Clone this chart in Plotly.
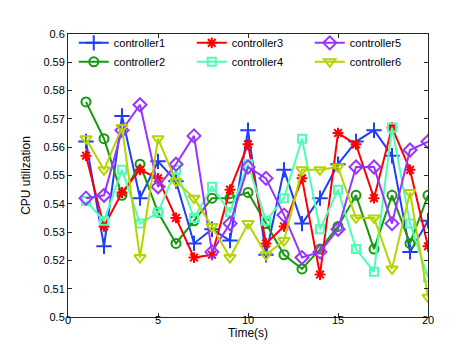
import plotly.graph_objects as go

# time axis (seconds) and per-controller CPU utilization
time_s = list(range(1, 21))

controller1 = [0.562, 0.525, 0.571, 0.542, 0.555, 0.548, 0.526, 0.531, 0.527, 0.566,
               0.522, 0.552, 0.533, 0.542, 0.554, 0.562, 0.566, 0.557, 0.523, 0.534]
controller2 = [0.576, 0.563, 0.543, 0.554, 0.537, 0.526, 0.534, 0.542, 0.542, 0.544,
               0.533, 0.522, 0.517, 0.524, 0.532, 0.543, 0.524, 0.543, 0.526, 0.543]
controller3 = [0.557, 0.532, 0.544, 0.552, 0.549, 0.535, 0.521, 0.522, 0.545, 0.561,
               0.526, 0.532, 0.549, 0.515, 0.565, 0.561, 0.542, 0.567, 0.552, 0.525]
controller4 = [0.541, 0.534, 0.552, 0.533, 0.537, 0.552, 0.535, 0.546, 0.537, 0.554,
               0.534, 0.542, 0.563, 0.531, 0.545, 0.524, 0.516, 0.567, 0.533, 0.514]
controller5 = [0.542, 0.543, 0.566, 0.575, 0.546, 0.554, 0.564, 0.523, 0.533, 0.553,
               0.549, 0.536, 0.521, 0.523, 0.531, 0.553, 0.553, 0.533, 0.559, 0.562]
controller6 = [0.563, 0.552, 0.567, 0.521, 0.563, 0.548, 0.542, 0.532, 0.521, 0.533,
               0.522, 0.527, 0.552, 0.552, 0.553, 0.535, 0.535, 0.517, 0.544, 0.507]

y_ticks = [0.5, 0.51, 0.52, 0.53, 0.54, 0.55, 0.56, 0.57, 0.58, 0.59, 0.6]
y_tick_text = ["0.5", "0.51", "0.52", "0.53", "0.54", "0.55", "0.56", "0.57", "0.58", "0.59", "0.6"]
x_ticks = [0, 5, 10, 15, 20]

FONT = "Liberation Sans, Arial, Helvetica, sans-serif"
AXIS = "#262626"

# (name, values, colour, marker symbol, marker size, legend rank -> 3 columns like MATLAB)
series = [
    ("controller1", controller1, "#1f3dff", "cross-thin-open", 11, 1),
    ("controller2", controller2, "#16990f", "circle-open", 9, 4),
    ("controller3", controller3, "#ff0000", "asterisk-open", 9, 2),
    ("controller4", controller4, "#4dffb5", "square-open", 8, 5),
    ("controller5", controller5, "#9933ff", "diamond-open", 10, 3),
    ("controller6", controller6, "#b5d400", "triangle-down-open", 10, 6),
]

fig = go.Figure()
for name, values, color, symbol, size, rank in series:
    fig.add_trace(
        go.Scatter(
            x=time_s,
            y=values,
            mode="lines+markers",
            name=name,
            legendrank=rank,
            line=dict(color=color, width=2),
            marker=dict(symbol=symbol, size=size, color=color,
                        line=dict(color=color, width=2)),
        )
    )

axis_common = dict(
    showline=True, linecolor=AXIS, linewidth=1, mirror="ticks",
    ticks="inside", ticklen=4, tickcolor=AXIS, showgrid=False, zeroline=False,
    tickfont=dict(family=FONT, size=11, color="#000000"),
)

fig.update_layout(
    width=464,
    height=349,
    margin=dict(l=60, r=44, t=26, b=40),
    paper_bgcolor="white",
    plot_bgcolor="white",
    font=dict(family=FONT, size=11, color="#000000"),
    xaxis=dict(range=[0, 20], tickvals=x_ticks, ticklabelstandoff=-7,
               title=dict(text="Time(s)", standoff=0, font=dict(size=12)),
               **axis_common),
    yaxis=dict(range=[0.5, 0.6], tickvals=y_ticks, ticktext=y_tick_text,
               title=dict(text="CPU utilization", standoff=10, font=dict(size=12)),
               **axis_common),
    legend=dict(
        orientation="h", x=0.016, y=1.02, xanchor="left", yanchor="top",
        entrywidth=73, entrywidthmode="pixels", tracegroupgap=0,
        bgcolor="rgba(255,255,255,0)", font=dict(family=FONT, size=11),
        itemwidth=30,
    ),
    showlegend=True,
)

fig.write_html("out.html")
